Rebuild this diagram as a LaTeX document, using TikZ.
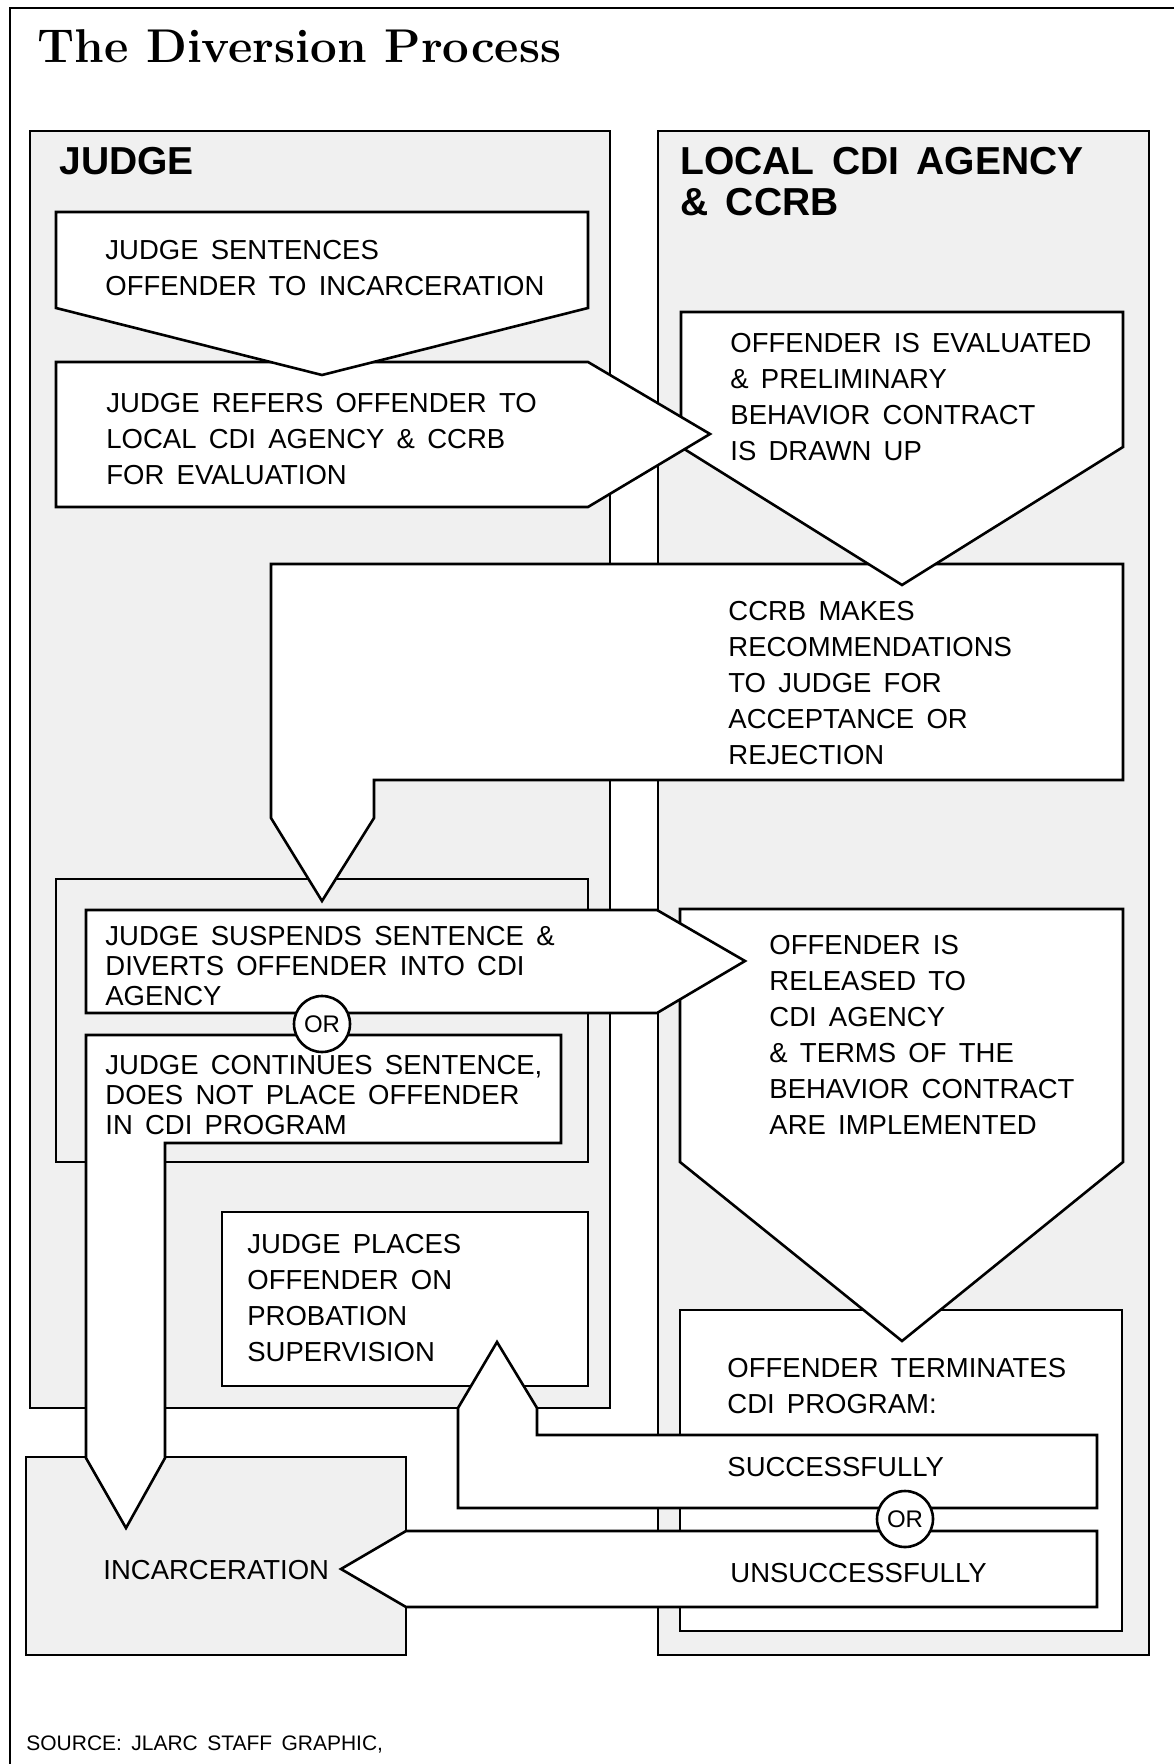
\documentclass[tikz,border=0pt]{standalone}
\usepackage{fontspec}
\setsansfont[WordSpace=1.6]{Liberation Sans}
\usepackage{tikz}
\definecolor{screen}{gray}{0.94}
\newcommand{\boxfont}{\sffamily\fontsize{13.75}{18}\selectfont}
\newcommand{\tightfont}{\sffamily\fontsize{13.75}{15}\selectfont}
\newcommand{\headfont}{\sffamily\bfseries\fontsize{19.5}{20.5}\selectfont}
\newcommand{\titlefont}{\rmfamily\bfseries\fontsize{23.7}{28}\selectfont}

\tikzset{
    panel/.style={draw, line width=1.3pt, fill=screen},
    groupframe/.style={draw, line width=1.3pt},
    arrowbox/.style={draw, line width=1.3pt, fill=white, line join=miter},
    boxtext/.style={anchor=north west, inner sep=0pt, align=left, font=\boxfont},
    heading/.style={anchor=north west, inner sep=0pt, align=left, font=\headfont},
    orsign/.style={circle, draw, line width=1.3pt, fill=white, minimum size=28pt,
        inner sep=0pt, font=\sffamily\fontsize{12}{12}\selectfont}
}

\begin{document}
\begin{tikzpicture}[x=0.5pt, y=-0.5pt]
    \useasboundingbox (0,0) rectangle (1174,1764);

    % Page frame and title
    \draw[line width=0.8pt] (1174,8) -- (10,8) -- (10,1764);
    \node[anchor=base west, inner sep=0pt, font=\titlefont] (title) at (37,63) {The Diversion Process};

    % Columns
    \draw[panel] (30,131) rectangle (610,1408);
    \draw[panel] (658,131) rectangle (1149,1655);
    \draw[panel] (26,1457) rectangle (406,1655);
    \node[heading] (judge) at (59,147) {JUDGE};
    \node[heading] (agency) at (680,147) {LOCAL CDI AGENCY\\\& CCRB};

    % Inner frames
    \draw[groupframe] (56,879) rectangle (588,1162);
    \draw[arrowbox] (680,1310) rectangle (1122,1631);
    \node[boxtext] (terminate) at (727,1358) {OFFENDER TERMINATES\\CDI PROGRAM:};
    \draw[arrowbox] (222,1212) rectangle (588,1386);
    \node[boxtext] (probation) at (247,1234) {JUDGE PLACES\\OFFENDER ON\\PROBATION\\SUPERVISION};

    % Recommendation back to the judge
    \draw[arrowbox] (271,564) -- (1123,564) -- (1123,780) -- (374,780) -- (374,818)
        -- (322,901) -- (271,818) -- cycle;
    \node[boxtext] (recommend) at (728,601)
        {CCRB MAKES\\RECOMMENDATIONS\\TO JUDGE FOR\\ACCEPTANCE OR\\REJECTION};

    % Evaluation
    \draw[arrowbox] (681,312) -- (1123,312) -- (1123,447) -- (902,585) -- (681,447) -- cycle;
    \node[boxtext] (evaluate) at (730,333)
        {OFFENDER IS EVALUATED\\\& PRELIMINARY\\BEHAVIOR CONTRACT\\IS DRAWN UP};

    \draw[arrowbox] (56,362) -- (588,362) -- (710,434) -- (588,507) -- (56,507) -- cycle;
    \node[boxtext] (refer) at (106,393)
        {JUDGE REFERS OFFENDER TO\\LOCAL CDI AGENCY \& CCRB\\FOR EVALUATION};

    \draw[arrowbox] (56,212) -- (588,212) -- (588,308) -- (322,375) -- (56,308) -- cycle;
    \node[boxtext] (sentence) at (105,240) {JUDGE SENTENCES\\OFFENDER TO INCARCERATION};

    % Release to the agency
    \draw[arrowbox] (680,909) -- (1123,909) -- (1123,1162) -- (902,1341) -- (680,1162) -- cycle;
    \node[boxtext] (release) at (769,935)
        {OFFENDER IS\\RELEASED TO\\CDI AGENCY\\\& TERMS OF THE\\BEHAVIOR CONTRACT\\ARE IMPLEMENTED};

    % Judge's decision
    \draw[arrowbox] (86,1035) -- (561,1035) -- (561,1143) -- (165,1143) -- (165,1458)
        -- (126,1528) -- (86,1458) -- cycle;
    \node[boxtext, font=\tightfont] (continue) at (105,1055)
        {JUDGE CONTINUES SENTENCE,\\DOES NOT PLACE OFFENDER\\IN CDI PROGRAM};
    \draw[arrowbox] (86,910) -- (657,910) -- (745,961) -- (657,1013) -- (86,1013) -- cycle;
    \node[boxtext, font=\tightfont] (suspend) at (105,926)
        {JUDGE SUSPENDS SENTENCE \&\\DIVERTS OFFENDER INTO CDI\\AGENCY};
    \node[orsign] (or1) at (322,1024) {OR};

    % Outcome of the program
    \draw[arrowbox] (458,1508) -- (458,1408) -- (497,1342) -- (537,1408) -- (537,1435)
        -- (1097,1435) -- (1097,1508) -- cycle;
    \node[boxtext] (success) at (727,1457) {SUCCESSFULLY};
    \draw[arrowbox] (341,1569) -- (406,1531) -- (1097,1531) -- (1097,1607) -- (406,1607) -- cycle;
    \node[boxtext] (failure) at (730,1563) {UNSUCCESSFULLY};
    \node[orsign] (or2) at (905,1519) {OR};
    \node[boxtext] (incarceration) at (103,1560) {INCARCERATION};

    % Source line
    \node[anchor=base west, inner sep=0pt, font=\sffamily\fontsize{10.5}{12}\selectfont] (source)
        at (26,1750) {SOURCE: JLARC STAFF GRAPHIC,};
\end{tikzpicture}
\end{document}
